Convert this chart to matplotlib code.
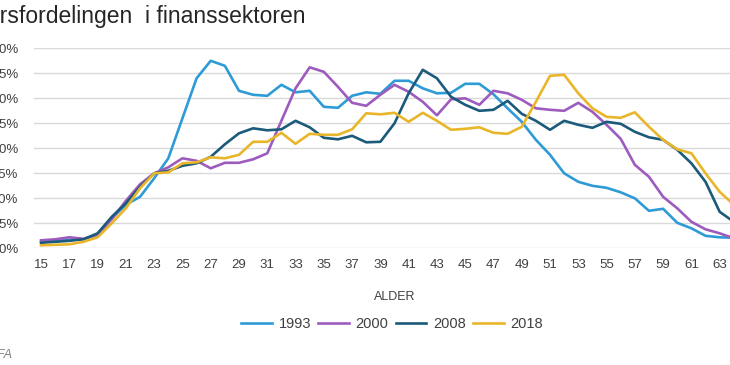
import numpy as np
from matplotlib import pyplot as plt

plt.rcParams['font.family'] = ['Liberation Sans', 'DejaVu Sans']

ages = list(range(15, 65))

y1993 = [0.13, 0.15, 0.17, 0.18, 0.27, 0.60, 0.87, 1.03, 1.40, 1.80,
         2.60, 3.40, 3.75, 3.65, 3.15, 3.07, 3.05, 3.27, 3.12, 3.15,
         2.83, 2.81, 3.05, 3.12, 3.09, 3.35, 3.35, 3.20, 3.10, 3.11,
         3.29, 3.29, 3.08, 2.80, 2.53, 2.17, 1.87, 1.50, 1.33, 1.25,
         1.21, 1.12, 1.00, 0.75, 0.79, 0.51, 0.40, 0.25, 0.22, 0.21]
y2000 = [0.16, 0.18, 0.22, 0.19, 0.27, 0.58, 0.95, 1.28, 1.50, 1.62,
         1.80, 1.75, 1.60, 1.71, 1.71, 1.78, 1.90, 2.55, 3.20, 3.62,
         3.53, 3.23, 2.91, 2.85, 3.07, 3.27, 3.13, 2.93, 2.66, 2.98,
         3.00, 2.87, 3.15, 3.10, 2.97, 2.80, 2.77, 2.75, 2.91, 2.73,
         2.47, 2.19, 1.67, 1.43, 1.03, 0.80, 0.53, 0.38, 0.30, 0.20]
y2008 = [0.11, 0.13, 0.15, 0.18, 0.30, 0.63, 0.90, 1.23, 1.50, 1.55,
         1.65, 1.70, 1.83, 2.08, 2.30, 2.40, 2.36, 2.38, 2.55, 2.42,
         2.21, 2.18, 2.25, 2.12, 2.13, 2.50, 3.10, 3.57, 3.40, 3.03,
         2.87, 2.75, 2.77, 2.95, 2.69, 2.55, 2.37, 2.55, 2.47, 2.41,
         2.53, 2.49, 2.33, 2.22, 2.17, 1.97, 1.70, 1.33, 0.73, 0.53]
y2018 = [0.06, 0.07, 0.08, 0.13, 0.22, 0.50, 0.80, 1.20, 1.50, 1.52,
         1.70, 1.72, 1.82, 1.80, 1.87, 2.13, 2.13, 2.31, 2.09, 2.29,
         2.27, 2.27, 2.38, 2.70, 2.68, 2.71, 2.53, 2.71, 2.55, 2.37,
         2.39, 2.42, 2.31, 2.29, 2.43, 2.93, 3.45, 3.47, 3.10, 2.80,
         2.63, 2.61, 2.72, 2.43, 2.17, 1.98, 1.90, 1.50, 1.13, 0.87]

series = [('1993', y1993, '#2e9bd6'), ('2000', y2000, '#9e5bbe'),
          ('2008', y2008, '#1b5a7a'), ('2018', y2018, '#e9b62a')]

W, H = 730, 365
fig = plt.figure(figsize=(W / 100, H / 100), dpi=100)
# plot area runs past the right edge, like the cropped original
ax = fig.add_axes([34 / W, 1 - 248.3 / H, (755 - 34) / W, 200 / H])

for name, vals, col in series:
    ax.plot(ages, vals, color=col, lw=1.9, label=name, solid_joinstyle='round')

ax.set_xlim(14.5, 65.5)
ax.set_ylim(0, 4.0)
ax.set_xticks(range(15, 65, 2))
ax.set_yticks(np.arange(0, 4.01, 0.5))
ax.set_yticklabels([f'{v:.1f}%'.replace('.', ',') for v in np.arange(0, 4.01, 0.5)])
ax.grid(axis='y', color='#d9d9d9', lw=1)
ax.set_axisbelow(True)
for s in ax.spines.values():
    s.set_visible(False)
ax.tick_params(axis='both', length=0, labelsize=9.5, labelcolor='#404040')
ax.tick_params(axis='y', pad=11)
ax.tick_params(axis='x', pad=8)
ax.set_xlabel('ALDER', fontsize=9, color='#404040', labelpad=14)

ax.legend(loc='upper center', bbox_to_anchor=(392 / W, 1 - 304 / H),
          bbox_transform=fig.transFigure, ncol=4, frameon=False,
          fontsize=10.5, handlelength=2.1, handletextpad=0.45,
          columnspacing=0.5, labelcolor='#404040')

fig.text(305 / W, 1 - 23 / H, 'Aldersfordelingen  i finanssektoren',
         ha='right', va='baseline', fontsize=16.5, color='#262626')
fig.text(12 / W, 1 - 358 / H, 'Kilde: FA', ha='right', va='baseline',
         fontsize=9, style='italic', color='#808080')

fig.savefig('out.png', dpi=100)
